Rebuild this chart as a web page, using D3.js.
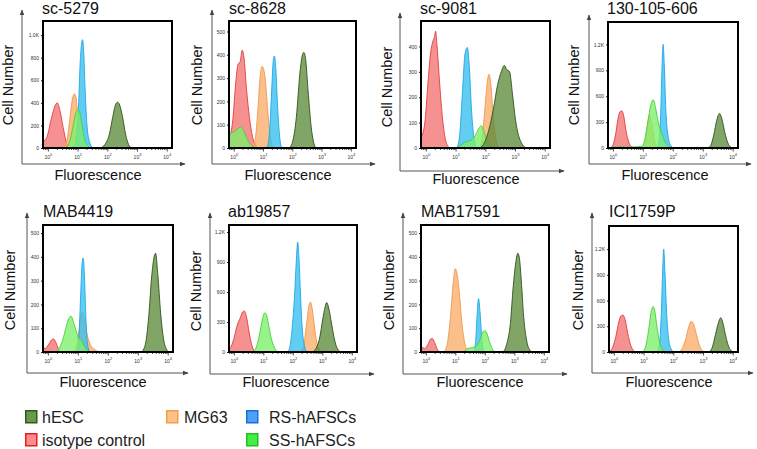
<!DOCTYPE html>
<html>
<head>
<meta charset="utf-8">
<script src="https://cdn.jsdelivr.net/npm/d3@7"></script>
<style>
  html, body { margin: 0; padding: 0; background: #fff; }
  svg { display: block; font-family: "Liberation Sans", Arial, sans-serif; }
</style>
</head>
<body>
<svg id="chart" width="757" height="449"></svg>
<script>
// ---------------- DATA ----------------
const seriesNames = ["hESC", "isotype control", "MG63", "RS-hAFSCs", "SS-hAFSCs"];
const panelTitles = ["sc-5279", "sc-8628", "sc-9081", "130-105-606", "MAB4419", "ab19857", "MAB17591", "ICI1759P"];
const yMaxValues = [1125, 545, 500, 1460, 534, 1270, 534, 1470];
const yTickValues = [
  [0, 200, 400, 600, 800, 1000],
  [0, 100, 200, 300, 400, 500],
  [0, 100, 200, 300, 400],
  [0, 300, 600, 900, 1200],
  [0, 100, 200, 300, 400, 500],
  [0, 300, 600, 900, 1200],
  [0, 100, 200, 300, 400, 500],
  [0, 300, 600, 900, 1200]
];
const yTickLabels = [
  ["0", "200", "400", "600", "800", "1.0K"],
  ["0", "100", "200", "300", "400", "500"],
  ["0", "100", "200", "300", "400"],
  ["0", "300", "600", "900", "1.2K"],
  ["0", "100", "200", "300", "400", "500"],
  ["0", "300", "600", "900", "1.2K"],
  ["0", "100", "200", "300", "400", "500"],
  ["0", "300", "600", "900", "1.2K"]
];
const xTickExponents = [0, 1, 2, 3, 4];

// Histogram outlines: [log10(fluorescence), cell count]
// order in each panel: hESC, isotype control, MG63, RS-hAFSCs, SS-hAFSCs
const data_sc5279 = [
  [[1.75,0],[1.9,30],[2.05,120],[2.17,280],[2.27,390],[2.33,405],[2.4,380],[2.5,270],[2.6,120],[2.7,30],[2.8,0]],
  [[-0.18,60],[-0.06,90],[0.11,270],[0.22,370],[0.3,400],[0.39,330],[0.5,180],[0.61,45],[0.72,0]],
  [[0.5,0],[0.62,60],[0.72,250],[0.8,420],[0.87,480],[0.92,460],[0.98,330],[1.05,200],[1.15,80],[1.3,0]],
  [[0.85,0],[0.95,100],[1.02,400],[1.07,750],[1.12,930],[1.15,960],[1.19,850],[1.24,500],[1.3,200],[1.38,60],[1.5,0]],
  [[0.6,0],[0.72,60],[0.82,180],[0.92,310],[0.98,340],[1.05,320],[1.12,220],[1.2,100],[1.32,20],[1.45,0]]
];
const data_sc8628 = [
  [[1.88,0],[2.0,30],[2.12,130],[2.25,330],[2.33,400],[2.38,410],[2.44,380],[2.52,250],[2.62,100],[2.72,20],[2.8,0]],
  [[-0.18,40],[-0.05,120],[0.05,280],[0.13,360],[0.2,370],[0.27,420],[0.33,390],[0.42,250],[0.52,130],[0.62,50],[0.75,10],[0.85,0]],
  [[0.65,0],[0.72,40],[0.8,150],[0.88,300],[0.95,350],[1.0,340],[1.07,280],[1.15,150],[1.22,60],[1.32,0]],
  [[1.12,0],[1.2,60],[1.27,220],[1.33,370],[1.37,395],[1.42,340],[1.48,180],[1.55,50],[1.62,0]],
  [[-0.18,55],[-0.1,65],[0.0,70],[0.1,80],[0.22,90],[0.32,75],[0.45,35],[0.6,10],[0.75,0]]
];
const data_sc9081 = [
  [[1.8,0],[1.95,20],[2.1,70],[2.25,150],[2.4,250],[2.52,300],[2.62,325],[2.7,310],[2.8,300],[2.9,210],[3.0,110],[3.1,50],[3.2,20],[3.35,0]],
  [[-0.18,40],[-0.05,100],[0.05,250],[0.15,380],[0.22,420],[0.28,440],[0.31,460],[0.36,400],[0.45,250],[0.55,110],[0.65,30],[0.78,0]],
  [[1.78,0],[1.88,40],[1.98,170],[2.05,260],[2.11,290],[2.17,250],[2.25,120],[2.33,40],[2.42,0]],
  [[1.03,0],[1.12,50],[1.22,230],[1.3,370],[1.38,396],[1.44,330],[1.52,150],[1.6,40],[1.7,0]],
  [[1.05,0],[1.2,15],[1.35,25],[1.5,30],[1.65,50],[1.78,80],[1.85,88],[1.95,60],[2.05,25],[2.2,5],[2.3,0]]
];
const data_130105606 = [
  [[3.15,0],[3.25,30],[3.35,150],[3.45,320],[3.54,400],[3.62,340],[3.72,180],[3.82,60],[3.92,10],[4.0,0]],
  [[-0.12,0],[-0.02,30],[0.07,150],[0.15,330],[0.22,420],[0.28,430],[0.34,380],[0.42,200],[0.5,80],[0.6,15],[0.7,0]],
  [[0.95,0],[1.05,60],[1.13,250],[1.2,380],[1.27,300],[1.35,120],[1.45,20],[1.55,0]],
  [[1.45,0],[1.52,80],[1.58,400],[1.62,900],[1.66,1200],[1.7,950],[1.75,450],[1.82,150],[1.9,40],[2.0,0]],
  [[-0.1,0],[0.0,12],[0.6,12],[0.95,20],[1.05,100],[1.15,300],[1.25,500],[1.33,560],[1.4,480],[1.5,300],[1.6,180],[1.7,90],[1.8,30],[1.9,0]]
];
const data_MAB4419 = [
  [[3.12,0],[3.25,40],[3.35,150],[3.45,320],[3.55,410],[3.58,415],[3.65,330],[3.75,160],[3.85,50],[3.95,10],[4.0,0]],
  [[-0.2,20],[-0.1,15],[0.0,30],[0.1,50],[0.17,55],[0.25,40],[0.33,15],[0.42,0]],
  [[0.85,0],[0.95,30],[1.03,100],[1.1,160],[1.14,167],[1.2,140],[1.3,70],[1.4,30],[1.55,10],[1.75,0]],
  [[0.95,0],[1.02,60],[1.08,250],[1.13,380],[1.16,395],[1.2,330],[1.25,150],[1.3,40],[1.38,0]],
  [[0.25,0],[0.38,20],[0.5,60],[0.6,110],[0.7,145],[0.76,150],[0.85,120],[0.95,80],[1.0,60],[1.1,50],[1.2,25],[1.35,0]]
];
const data_ab19857 = [
  [[2.65,0],[2.78,40],[2.9,150],[3.0,330],[3.08,450],[3.13,495],[3.2,440],[3.3,280],[3.4,120],[3.5,30],[3.62,0]],
  [[-0.18,30],[-0.1,60],[0.0,150],[0.1,270],[0.2,340],[0.28,400],[0.34,410],[0.42,340],[0.5,200],[0.6,60],[0.72,0]],
  [[2.25,0],[2.35,60],[2.45,280],[2.53,460],[2.58,500],[2.63,450],[2.7,300],[2.78,120],[2.88,30],[2.95,0]],
  [[1.82,0],[1.9,80],[1.98,300],[2.05,600],[2.1,900],[2.15,1100],[2.19,950],[2.24,600],[2.3,250],[2.38,60],[2.45,0]],
  [[0.62,0],[0.75,50],[0.85,170],[0.95,320],[1.02,390],[1.08,380],[1.15,290],[1.25,140],[1.35,50],[1.5,0]]
];
const data_MAB17591 = [
  [[2.6,0],[2.72,30],[2.85,120],[2.95,280],[3.05,390],[3.1,415],[3.15,400],[3.22,300],[3.3,150],[3.4,50],[3.5,10],[3.6,0]],
  [[-0.18,25],[-0.05,15],[0.05,30],[0.15,55],[0.2,57],[0.28,40],[0.36,15],[0.45,0]],
  [[0.6,0],[0.72,40],[0.82,150],[0.92,300],[0.98,350],[1.04,330],[1.12,250],[1.2,130],[1.3,40],[1.42,0]],
  [[1.6,0],[1.67,40],[1.72,150],[1.77,225],[1.82,170],[1.88,60],[1.95,0]],
  [[1.28,0],[1.4,15],[1.55,18],[1.7,25],[1.8,45],[1.9,80],[1.98,90],[2.05,80],[2.15,40],[2.25,10],[2.35,0]]
];
const data_ICI1759P = [
  [[3.2,0],[3.3,60],[3.4,200],[3.5,340],[3.58,400],[3.65,340],[3.75,180],[3.85,60],[3.95,10],[4.0,0]],
  [[-0.15,10],[-0.05,60],[0.05,180],[0.15,350],[0.22,420],[0.29,430],[0.36,380],[0.45,220],[0.55,80],[0.65,15],[0.72,0]],
  [[2.15,0],[2.28,40],[2.4,150],[2.5,290],[2.58,355],[2.65,340],[2.75,220],[2.85,90],[2.95,20],[3.05,0]],
  [[1.45,0],[1.52,100],[1.58,450],[1.63,1000],[1.66,1200],[1.7,950],[1.76,450],[1.84,120],[1.92,30],[2.0,0]],
  [[0.95,0],[1.05,60],[1.15,250],[1.23,450],[1.3,530],[1.36,480],[1.43,300],[1.52,120],[1.6,40],[1.7,0]]
];
const panelData = [data_sc5279, data_sc8628, data_sc9081, data_130105606,
                   data_MAB4419, data_ab19857, data_MAB17591, data_ICI1759P];

// ---------------- LAYOUT / STYLE ----------------
const layout = [
  {box:[43,21,172,148],  ax:22,  at:10,  xy:164, xe:185, cx:8,   cy:85,  fx:98,  fy:180, tx:42,  ty:14},
  {box:[229,21,356,148], ax:212, at:10,  xy:164, xe:375, cx:197, cy:85,  fx:288, fy:180, tx:229, ty:14},
  {box:[421,21,550,148], ax:400, at:13,  xy:171, xe:564, cx:387, cy:87,  fx:476, fy:184, tx:420, ty:14},
  {box:[608,22,738,148], ax:589, at:15,  xy:164, xe:751, cx:574, cy:85,  fx:665, fy:180, tx:607, ty:14},
  {box:[43,225,173,352], ax:27,  at:213, xy:373, xe:188, cx:10,  cy:290, fx:103, fy:387, tx:43,  ty:217},
  {box:[229,225,357,352],ax:210, at:213, xy:374, xe:374, cx:196, cy:291, fx:286, fy:387, tx:228, ty:217},
  {box:[421,225,549,352],ax:403, at:213, xy:374, xe:567, cx:389, cy:290, fx:480, fy:387, tx:421, ty:217},
  {box:[609,226,738,352],ax:592, at:213, xy:373, xe:753, cx:578, cy:290, fx:669, fy:387, tx:609, ty:217}
];
const fillColors   = ["#5e8a3c", "#f47272", "#f8ad6a", "#35bff0", "#7cf06a"];
const strokeColors = ["#2e5218", "#e23c3c", "#f0964a", "#1ea6e6", "#46d03a"];
const drawOrder = [1, 2, 3, 4, 0];
const legendFill   = ["#6a9a50", "#ff8c8c", "#ffc08a", "#4da2f6", "#44ee44"];
const legendStroke = ["#2f5a1e", "#e81c1c", "#f0a048", "#1c6fd8", "#22c022"];

const svg = d3.select("#chart");
const defs = svg.append("defs");
defs.append("marker").attr("id", "arrow")
  .attr("viewBox", "0 0 10 10").attr("refX", 9).attr("refY", 5)
  .attr("markerWidth", 6).attr("markerHeight", 6).attr("orient", "auto")
  .append("path").attr("d", "M0,1 L10,5 L0,9 Z").attr("fill", "#444");

panelData.forEach((series, i) => {
  const L = layout[i];
  const [x0, y0, x1, y1] = L.box;
  const x = d3.scaleLog().domain([Math.pow(10, -0.18), Math.pow(10, 4.16)]).range([x0, x1]);
  const y = d3.scaleLinear().domain([0, yMaxValues[i]]).range([y1, y0]);
  const g = svg.append("g");

  // outer arrow axes
  g.append("line").attr("x1", L.ax).attr("y1", L.xy).attr("x2", L.ax).attr("y2", L.at)
    .attr("stroke", "#555").attr("stroke-width", 1).attr("marker-end", "url(#arrow)");
  g.append("line").attr("x1", L.ax).attr("y1", L.xy).attr("x2", L.xe).attr("y2", L.xy)
    .attr("stroke", "#555").attr("stroke-width", 1).attr("marker-end", "url(#arrow)");

  // clip
  const cid = "clip" + i;
  defs.append("clipPath").attr("id", cid).append("rect")
    .attr("x", x0).attr("y", y0).attr("width", x1 - x0).attr("height", y1 - y0);

  const area = d3.area()
    .x(d => x(Math.pow(10, d[0])))
    .y0(y(0)).y1(d => y(d[1]))
    .curve(d3.curveMonotoneX);
  const line = d3.line()
    .x(d => x(Math.pow(10, d[0])))
    .y(d => y(d[1]))
    .curve(d3.curveMonotoneX);

  const hg = g.append("g").attr("clip-path", `url(#${cid})`);
  drawOrder.forEach(s => {
    hg.append("path").datum(series[s]).attr("d", area)
      .attr("fill", fillColors[s]).attr("fill-opacity", 0.78);
    hg.append("path").datum(series[s]).attr("d", line)
      .attr("fill", "none").attr("stroke", strokeColors[s]).attr("stroke-width", 0.9);
  });

  // y ticks
  const yAxis = d3.axisLeft(y).tickValues(yTickValues[i])
    .tickFormat((d, k) => yTickLabels[i][k]).tickSize(2).tickPadding(2);
  const ya = g.append("g").attr("transform", `translate(${x0},0)`).call(yAxis);
  ya.select(".domain").remove();
  ya.selectAll("text").attr("font-size", 5).attr("fill", "#333")
    .attr("font-family", "'Liberation Sans', Arial, sans-serif");
  ya.selectAll("line").attr("stroke", "#222");

  // x minor ticks
  const minor = [];
  for (let e = -1; e <= 4; e++) for (let m = 1; m <= 9; m++) {
    const v = m * Math.pow(10, e);
    if (v >= x.domain()[0] && v <= x.domain()[1]) minor.push(v);
  }
  g.append("g").selectAll("line").data(minor).join("line")
    .attr("x1", d => x(d)).attr("x2", d => x(d))
    .attr("y1", y1).attr("y2", d => y1 + (Math.abs(Math.log10(d) - Math.round(Math.log10(d))) < 1e-9 ? 3.5 : 2))
    .attr("stroke", "#222").attr("stroke-width", 0.8);

  // x tick labels 10^n
  const xl = g.append("g").selectAll("text").data(xTickExponents).join("text")
    .attr("x", d => x(Math.pow(10, d))).attr("y", y1 + 11)
    .attr("text-anchor", "middle").attr("font-size", 5).attr("fill", "#333");
  xl.append("tspan").text("10");
  xl.append("tspan").attr("dy", -3).attr("font-size", 4).text(d => d);

  // box
  g.append("rect").attr("x", x0).attr("y", y0).attr("width", x1 - x0).attr("height", y1 - y0)
    .attr("fill", "none").attr("stroke", "#000").attr("stroke-width", 2);

  // labels
  g.append("text").attr("x", L.tx).attr("y", L.ty).attr("font-size", 16).attr("fill", "#111")
    .text(panelTitles[i]);
  g.append("text").attr("transform", `translate(${L.cx},${L.cy}) rotate(-90)`)
    .attr("text-anchor", "middle").attr("dominant-baseline", "central")
    .attr("font-size", 14.5).attr("fill", "#111").text("Cell Number");
  g.append("text").attr("x", L.fx).attr("y", L.fy).attr("text-anchor", "middle")
    .attr("font-size", 14.5).attr("fill", "#111").text("Fluorescence");
});

// legend
const legendPos = [[25, 410], [25, 433], [166, 410], [246, 410], [246, 433]];
const legendTextX = [42, 42, 184, 269, 269];
const lg = svg.append("g");
seriesNames.forEach((name, s) => {
  const [lx, ly] = legendPos[s];
  lg.append("rect").attr("x", lx + 0.75).attr("y", ly + 0.75).attr("width", 11).attr("height", 12)
    .attr("fill", legendFill[s]).attr("stroke", legendStroke[s]).attr("stroke-width", 1.5);
  lg.append("text").attr("x", legendTextX[s]).attr("y", ly + 12.5)
    .attr("font-size", 16).attr("fill", "#222").text(name);
});
</script>
</body>
</html>
